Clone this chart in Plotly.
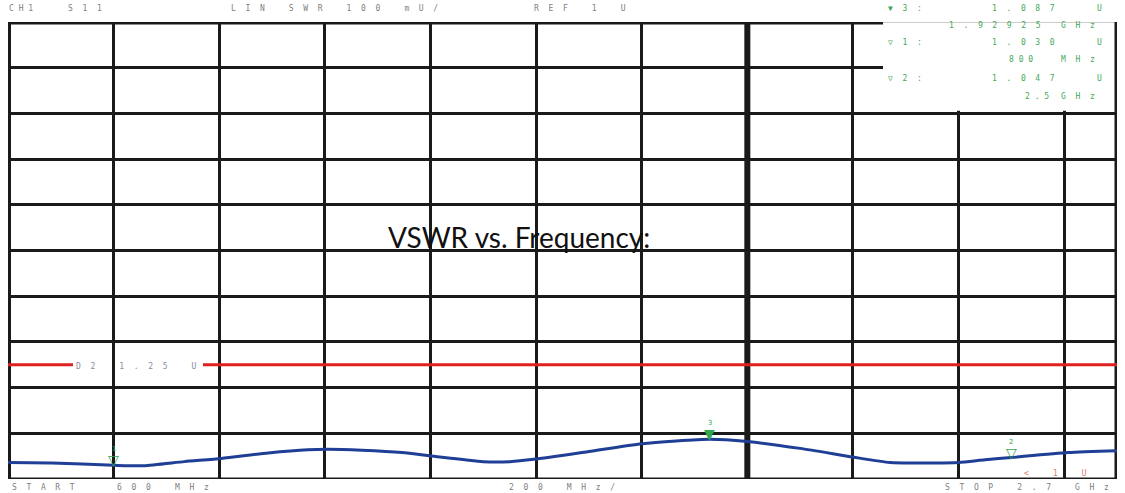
import plotly.graph_objects as go

# ---------------- data ----------------
FREQ_MHZ = [600, 683, 800, 857, 934, 1004, 1093, 1168, 1206, 1270, 1346, 1410,
            1500, 1550, 1596, 1700, 1800, 1929.25, 2000, 2100, 2200, 2270, 2340,
            2400, 2450, 2500, 2607, 2700]
VSWR = [1.036, 1.035, 1.030, 1.029, 1.038, 1.045, 1.057, 1.064, 1.065, 1.063, 1.058, 1.049,
        1.038, 1.038, 1.043, 1.060, 1.077, 1.087, 1.082, 1.067, 1.048, 1.036, 1.035,
        1.036, 1.042, 1.047, 1.058, 1.062]

MARKER_ID = ["1", "2", "3"]
MARKER_F = [800, 2500, 1929.25]
MARKER_V = [1.030, 1.047, 1.087]
MARKER_ACTIVE = [False, False, True]

LIMIT = 1.25
X_START, X_STOP, X_DIV = 600, 2700, 200
Y_REF, Y_TOP, Y_DIV = 1.0, 2.0, 0.1
THICK_X = 2000

# ---------------- layout helpers ----------------
PLOT_L, PLOT_R, PLOT_T, PLOT_B = 8, 1117, 22, 479   # page pixels
PW, PH = PLOT_R - PLOT_L, PLOT_B - PLOT_T
FW, FH = 1125, 493
ML, MT = PLOT_L, PLOT_T
MR, MB = FW - ML - PW, FH - MT - PH

def px(x):
    return (x - PLOT_L) / PW

def py(y):
    return (PLOT_B - y) / PH

def fx(x):
    return X_START + (x - PLOT_L) / PW * (X_STOP - X_START)

def sp(s, gap=2):
    g = "\u00a0" * gap
    return g.join("\u00a0" if c == " " else c for c in s)

GRAY = "#808080"
GREEN = "#45a856"
MONO = "DejaVu Sans Mono"
LC = "#1a1a1a"

fig = go.Figure()

fig.add_trace(go.Scatter(
    x=FREQ_MHZ, y=VSWR, mode="lines",
    line=dict(color="#1f3e96", width=3, shape="spline", smoothing=0.6),
    hoverinfo="skip", showlegend=False,
))

shapes = []
# marker box (white) in top right
shapes.append(dict(type="rect", xref="x", yref="y", x0=fx(883), x1=X_STOP, y0=1.806, y1=Y_TOP,
                   fillcolor="white", line=dict(width=0), layer="between"))
shapes.append(dict(type="line", xref="x", yref="y", x0=fx(883), x1=X_STOP, y0=Y_TOP, y1=Y_TOP,
                   line=dict(color="#999999", width=1), layer="between"))
# borders
shapes.append(dict(type="line", xref="x", yref="y", x0=X_START, x1=fx(883), y0=Y_TOP, y1=Y_TOP,
                   line=dict(color=LC, width=5), layer="between"))
shapes.append(dict(type="line", xref="x", yref="y", x0=X_START, x1=X_STOP, y0=Y_REF, y1=Y_REF,
                   line=dict(color=LC, width=3), layer="between"))
shapes.append(dict(type="line", xref="x", yref="y", x0=X_START, x1=X_START, y0=Y_REF, y1=Y_TOP,
                   line=dict(color=LC, width=6), layer="between"))
shapes.append(dict(type="line", xref="x", yref="y", x0=X_STOP, x1=X_STOP, y0=Y_REF, y1=Y_TOP,
                   line=dict(color=LC, width=5), layer="between"))
shapes.append(dict(type="line", xref="x", yref="y", x0=THICK_X, x1=THICK_X, y0=Y_REF, y1=Y_TOP,
                   line=dict(color=LC, width=6), layer="between"))
# limit line (broken where its label sits)
shapes.append(dict(type="line", xref="x", yref="y", x0=X_START, x1=fx(73), y0=LIMIT, y1=LIMIT,
                   line=dict(color="#e02020", width=3), layer="above"))
shapes.append(dict(type="line", xref="x", yref="y", x0=fx(203), x1=X_STOP, y0=LIMIT, y1=LIMIT,
                   line=dict(color="#e02020", width=3), layer="above"))

ann = []

def txt(s, x, y, color=GRAY, size=8, gap=2, family=MONO, anchor="left"):
    ann.append(dict(text=sp(s, gap), x=px(x), y=py(y), xref="paper", yref="paper",
                    xanchor=anchor, yanchor="middle", showarrow=False,
                    font=dict(family=family, size=size, color=color)))

# header
txt("CH1", 7, 9, gap=1)
txt("S11", 66, 9)
txt("LIN SWR 100 mU/", 229, 9)
txt("REF 1 U", 532, 9)
# marker readouts
txt("\u25bc3:", 886, 9, color=GREEN)
txt("1.087", 990, 9, color=GREEN)
txt("U", 1095, 9, color=GREEN)
txt("1.92925", 947, 25, color=GREEN)
txt("GHz", 1059, 25, color=GREEN)
txt("\u25bd1:", 886, 43, color=GREEN)
txt("1.030", 990, 43, color=GREEN)
txt("U", 1095, 43, color=GREEN)
txt("800", 1007, 60, color=GREEN, gap=1)
txt("MHz", 1059, 60, color=GREEN)
txt("\u25bd2:", 886, 78, color=GREEN)
txt("1.047", 990, 78, color=GREEN)
txt("U", 1095, 78, color=GREEN)
txt("2.5", 1023, 96, color=GREEN, gap=1)
txt("GHz", 1059, 96, color=GREEN)
# limit label
txt("D2 1.25 U", 74, 366, color="#8a8aa0")
# reference position
txt("< 1 U", 1022, 473, color="#e07a7a")
# bottom
txt("START", 10, 488)
txt("600", 115, 488)
txt("MHz", 173, 488)
txt("200 MHz/", 507, 488)
txt("STOP 2.7 GHz", 943, 488)

# trace markers
for mid, f, v, act in zip(MARKER_ID, MARKER_F, MARKER_V, MARKER_ACTIVE):
    ann.append(dict(text="\u25bc" if act else "\u25bd", x=f, y=v, xref="x", yref="y",
                    xanchor="center", yanchor="bottom", yshift=-5, showarrow=False,
                    font=dict(family="DejaVu Sans", size=14, color="#2fa84f")))
    ann.append(dict(text=mid, x=f, y=v, xref="x", yref="y",
                    xanchor="center", yanchor="bottom", yshift=10, showarrow=False,
                    font=dict(family=MONO, size=7, color="#2fa84f")))

# title overlay
ann.append(dict(text="VSWR vs. Frequency:", x=px(519), y=py(237), xref="paper", yref="paper",
                xanchor="center", yanchor="middle", showarrow=False,
                font=dict(family="Lato", size=28, color="#111111")))

fig.update_layout(
    width=FW, height=FH,
    margin=dict(l=ML, r=MR, t=MT, b=MB, pad=0),
    paper_bgcolor="white", plot_bgcolor="white",
    showlegend=False,
    shapes=shapes, annotations=ann,
    xaxis=dict(range=[X_START, X_STOP], tick0=X_START, dtick=X_DIV, showgrid=True,
               gridcolor=LC, gridwidth=3, showticklabels=False, zeroline=False,
               showline=False, ticks="", fixedrange=True),
    yaxis=dict(range=[Y_REF, Y_TOP], tick0=Y_REF, dtick=Y_DIV, showgrid=True,
               gridcolor=LC, gridwidth=2.5, showticklabels=False, zeroline=False,
               showline=False, ticks="", fixedrange=True),
)

fig.write_html(
    "out.html",
    config={"displayModeBar": False},
    post_script="document.body.style.margin='0px';document.body.style.overflow='hidden';",
)
